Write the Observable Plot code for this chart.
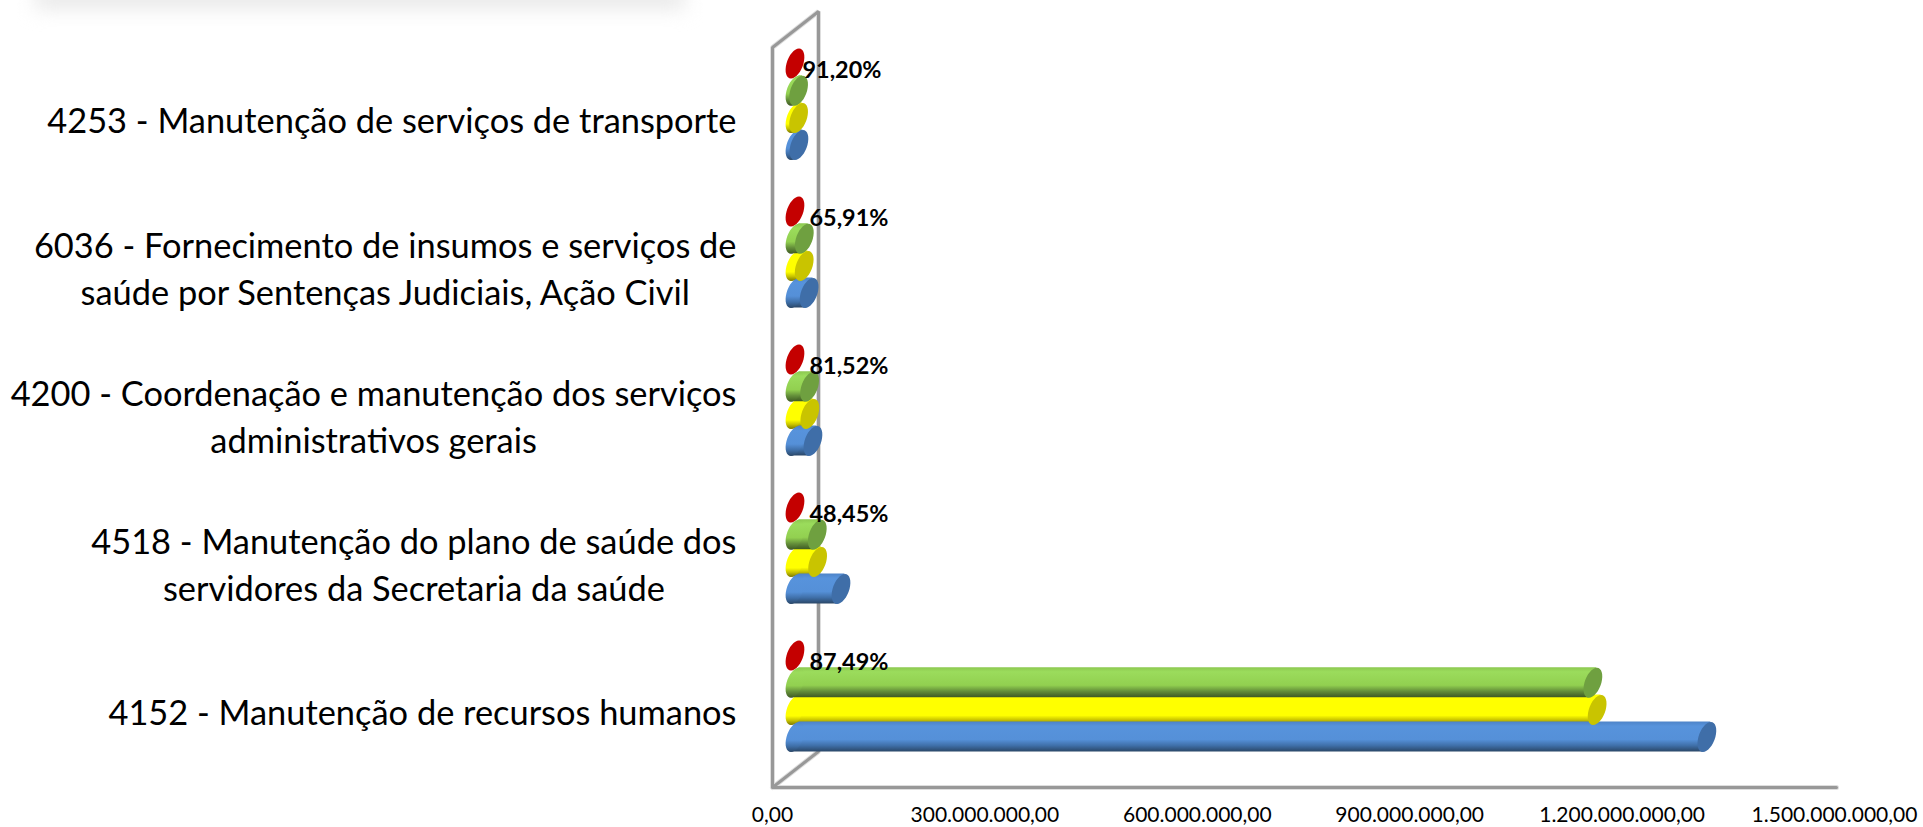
<!DOCTYPE html>
<html lang="pt">
<head>
<meta charset="utf-8">
<title>Ações</title>
<script src="https://cdn.jsdelivr.net/npm/d3@7"></script>
<script src="https://cdn.jsdelivr.net/npm/@observablehq/plot@0.6"></script>
<style>
  html, body { margin: 0; padding: 0; background: #fff; overflow: hidden; }
  #wrap { position: relative; width: 1923px; height: 827px; overflow: hidden; }
  #smudge { position: absolute; left: 35px; top: -12px; width: 650px; height: 20px; background: #e6e6e6; filter: blur(10px); }
  #chart { position: absolute; left: 0; top: 0; }
  #chart svg { background: transparent; }
</style>
</head>
<body>
<div id="wrap"><div id="chart"></div><div id="smudge"></div></div>
<script>
// ---- data (top to bottom) ----
const categories = [
  "4253 - Manutenção de serviços de transporte",
  "6036 - Fornecimento de insumos e serviços de\nsaúde por Sentenças Judiciais, Ação Civil",
  "4200 - Coordenação e manutenção dos serviços\nadministrativos gerais",
  "4518 - Manutenção do plano de saúde dos\nservidores da Secretaria da saúde",
  "4152 - Manutenção de recursos humanos"
];
const redValues    = [0, 0, 0, 0, 0];
const greenValues  = [5.1e6, 13.2e6, 20.7e6, 31.5e6, 1127e6];
const yellowValues = [5.1e6, 13e6, 21e6, 32e6, 1133e6];
const blueValues   = [5.6e6, 20e6, 25.4e6, 65e6, 1288e6];
const percentLabels = ["91,20%", "65,91%", "81,52%", "48,45%", "87,49%"];
const tickValues = [0, 3e8, 6e8, 9e8, 12e8, 15e8];

// ---- layout & style ----
const xRange = [772, 1834], xMax = 1.5e9;
const yTop = 63, groupStep = 148;
const pxX = (xMax) / (xRange[1] - xRange[0]);   // value per pixel
const pxY = 1 / groupStep;                       // category unit per pixel
const seriesStep = 27.2 * pxY;
const capRy = 15, capRx = 8.5, capSkew = 4;
const depth = 22.5;
const FONT = "Lato, sans-serif";
const catFont = 34.4, tickFont = 21, pctFont = 23.4;

const series = [
  {key: "red",    values: redValues,    slot: 0, cap: "#c40000"},
  {key: "green",  values: greenValues,  slot: 1, cap: "#6fa040",
    stops: [[0,"#8cc850"],[.15,"#9bdc5c"],[.6,"#92d050"],[.8,"#648f3a"],[1,"#3f5a24"]]},
  {key: "yellow", values: yellowValues, slot: 2, cap: "#c9c400",
    stops: [[0,"#ffff00"],[.7,"#ffff00"],[.85,"#c9c400"],[1,"#7d7a00"]]},
  {key: "blue",   values: blueValues,   slot: 3, cap: "#3f6ea8",
    stops: [[0,"#4e84c8"],[.15,"#5793dc"],[.6,"#5590d8"],[.8,"#3f6fa8"],[1,"#2a4666"]]}
];
const byKey = Object.fromEntries(series.map(s => [s.key, s]));

const rowsOf = s => s.values.map((v, i) => ({i, v, y: i + s.slot * seriesStep}));
const bodyOf = s => rowsOf(s).filter(d => d.v > 0).flatMap(d => [
  {id: d.i, y: d.y - capRy * pxY, x1:  capSkew * pxX, x2: d.v + capSkew * pxX},
  {id: d.i, y: d.y + capRy * pxY, x1: -capSkew * pxX, x2: d.v - capSkew * pxX}
]);

// tilted ellipse (the round end of a cylinder), affine-mapped circle of Béziers
const capSymbol = {
  draw(ctx) {
    const k = 0.5523;
    const m = (c, s) => [capRx * c - capSkew * s, capRy * s];
    const seq = [[[1,k],[k,1],[0,1]],[[-k,1],[-1,k],[-1,0]],[[-1,-k],[-k,-1],[0,-1]],[[k,-1],[1,-k],[1,0]]];
    ctx.moveTo(...m(1, 0));
    for (const [a, b, c] of seq) ctx.bezierCurveTo(...m(...a), ...m(...b), ...m(...c));
    ctx.closePath();
  }
};

const defsMark = () => {
  const defs = d3.create("svg:defs");
  for (const s of series) if (s.stops) {
    const g = defs.append("linearGradient").attr("id", "grad-" + s.key)
      .attr("x1", 0).attr("x2", 0).attr("y1", 0).attr("y2", 1);
    for (const [o, c] of s.stops) g.append("stop").attr("offset", o).attr("stop-color", c);
  }
  return defs.node();
};

const bodyMark = key => Plot.area(bodyOf(byKey[key]), {
  x1: "x1", x2: "x2", y1: "y", y2: "y", z: "id",
  fill: `url(#grad-${key})`, dx: depth
});
const startCapMark = key => Plot.dot(rowsOf(byKey[key]).filter(d => d.v > 0), {
  x: () => 0, y: "y", symbol: capSymbol, r: 10,
  fill: `url(#grad-${key})`, stroke: "none", dx: depth
});
const endCapMark = key => Plot.dot(rowsOf(byKey[key]), {
  x: "v", y: "y", symbol: capSymbol, r: 10,
  fill: byKey[key].cap, stroke: "none", dx: depth
});

// chart frame
const wallTop = (47 - yTop) * pxY, floor = (787 - yTop) * pxY;
const backDX = 46 * pxX, backDY = -36 * pxY;
const wallPath = [
  {x: xMax + 2 * pxX, y: floor}, {x: 0, y: floor}, {x: 0, y: wallTop},
  {x: backDX, y: wallTop + backDY}, {x: backDX, y: floor + backDY}, {x: 0, y: floor}
];
const frameMark = (stroke, strokeWidth) => Plot.line(wallPath, {x: "x", y: "y", stroke, strokeWidth, strokeLinejoin: "miter"});

// category labels: each block is centred on its longest line, and its right edge sits at the same spot
const labelRight = 736;
const mctx = document.createElement("canvas").getContext("2d");
mctx.font = `${catFont}px ${FONT}`;
const blockWidth = t => d3.max(t.split("\n"), l => mctx.measureText(l).width);
const labelMarks = categories.map((c, i) => Plot.text([c], {
  x: () => 0, y: () => i + 55 * pxY, text: d => d,
  textAnchor: "middle", lineHeight: 46.5 / catFont,
  dx: labelRight - xRange[0] - blockWidth(c) / 2,
  fontSize: catFont, fill: "#000"
}));

const tickFormat = v => d3.format(",.2f")(v).replace(/,/g, "#").replace(".", ",").replace(/#/g, ".");

const chart = Plot.plot({
  width: 1923, height: 827,
  marginLeft: 0, marginRight: 0, marginTop: 0, marginBottom: 40,
  style: {fontFamily: FONT, background: "transparent", overflow: "visible"},
  x: {domain: [0, xMax], range: xRange, axis: null},
  y: {domain: [0, 5], range: [yTop, yTop + 5 * groupStep], axis: null},
  marks: [
    defsMark,
    frameMark("#dedede", 5),
    frameMark("#989898", 3),
    Plot.axisX({anchor: "bottom", ticks: tickValues, tickSize: 0, tickPadding: 20, tickFormat,
                label: null, fontSize: tickFont, fill: "#000"}),
    endCapMark("red"),
    bodyMark("yellow"), startCapMark("yellow"),
    bodyMark("blue"),   startCapMark("blue"),
    bodyMark("green"),  startCapMark("green"),
    endCapMark("blue"), endCapMark("green"), endCapMark("yellow"),
    ...labelMarks,
    Plot.text(percentLabels, {
      x: (d, i) => i === 0 ? -7 * pxX : 0, y: (d, i) => i + 7 * pxY, text: d => d,
      textAnchor: "start", dx: 37, fontSize: pctFont, fontWeight: 700, fill: "#000"
    })
  ]
});
document.getElementById("chart").appendChild(chart);
</script>
</body>
</html>
